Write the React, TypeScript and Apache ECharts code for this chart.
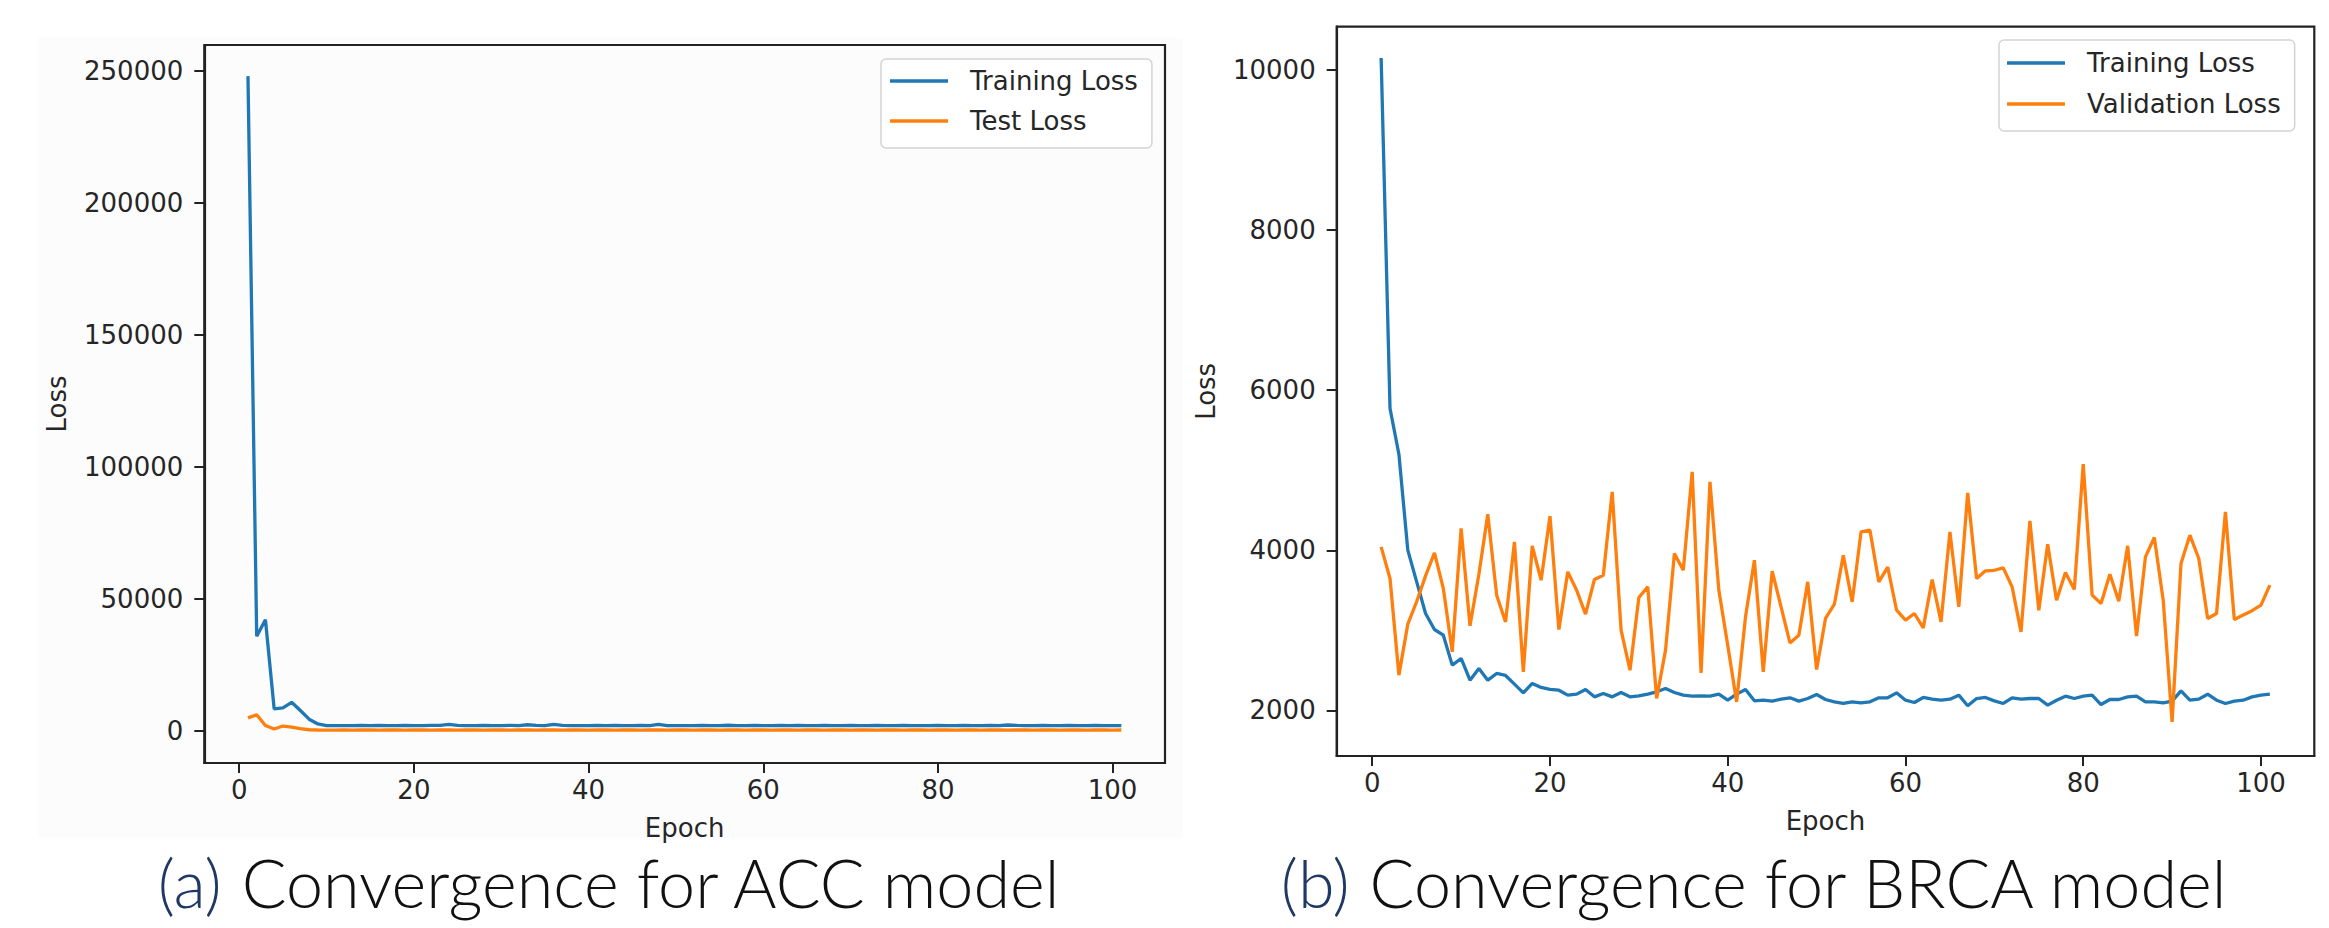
import React, { useEffect, useRef } from "react";
import * as echarts from "echarts";

// ---------- data ----------
const epochs: number[] = [
  1, 2, 3, 4, 5, 6, 7, 8, 9, 10, 11, 12, 13, 14, 15, 16, 17, 18, 19, 20,
  21, 22, 23, 24, 25, 26, 27, 28, 29, 30, 31, 32, 33, 34, 35, 36, 37, 38, 39, 40,
  41, 42, 43, 44, 45, 46, 47, 48, 49, 50, 51, 52, 53, 54, 55, 56, 57, 58, 59, 60,
  61, 62, 63, 64, 65, 66, 67, 68, 69, 70, 71, 72, 73, 74, 75, 76, 77, 78, 79, 80,
  81, 82, 83, 84, 85, 86, 87, 88, 89, 90, 91, 92, 93, 94, 95, 96, 97, 98, 99, 100, 101,
];

const accTrainingLoss: number[] = [
  248000, 35700, 42000, 8200, 8600, 10700, 7600, 4300, 2500, 1900,
  1850, 1900, 1900, 1950, 1900, 1950, 1900, 1900, 1950, 1900,
  1900, 1950, 1950, 2300, 1950, 1900, 1900, 1950, 1900, 1900,
  1950, 1900, 2200, 1950, 1900, 2300, 1950, 1900, 1900, 1900,
  1950, 1900, 1950, 1900, 1900, 1950, 1900, 2300, 1900, 1900,
  1900, 1900, 1950, 1900, 1900, 2000, 1900, 1900, 1950, 1900,
  1900, 1950, 1900, 1950, 1900, 1900, 1950, 1900, 1900, 1950,
  1900, 1900, 1950, 1900, 1900, 1950, 1900, 1900, 1900, 1950,
  1900, 1900, 1950, 1900, 1900, 1950, 1900, 2100, 1950, 1900,
  1900, 1950, 1900, 1900, 1950, 1900, 1900, 1950, 1900, 1900, 1900,
];

const accTestLoss: number[] = [
  4800, 6000, 1900, 600, 1700, 1300, 700, 300, 200, 150,
  150, 200, 150, 200, 200, 150, 200, 200, 150, 200,
  200, 150, 200, 200, 150, 200, 200, 150, 200, 200,
  150, 200, 200, 150, 200, 200, 150, 200, 200, 150,
  200, 200, 150, 200, 200, 150, 200, 200, 150, 200,
  200, 150, 200, 200, 150, 200, 200, 150, 200, 200,
  150, 200, 200, 150, 200, 200, 150, 200, 200, 150,
  200, 200, 150, 200, 200, 150, 200, 200, 150, 200,
  200, 150, 200, 200, 150, 200, 200, 150, 200, 200,
  150, 200, 200, 150, 200, 200, 150, 200, 200, 150, 200,
];

const brcaTrainingLoss: number[] = [
  10150, 5771, 5200, 4001, 3605, 3210, 3010, 2939, 2565, 2648,
  2377, 2523, 2377, 2461, 2436, 2327, 2219, 2336, 2286, 2261,
  2252, 2190, 2203, 2261, 2169, 2211, 2169, 2223, 2169, 2182,
  2203, 2232, 2273, 2223, 2190, 2178, 2182, 2178, 2203, 2127,
  2203, 2261, 2119, 2127, 2115, 2140, 2157, 2115, 2148, 2198,
  2136, 2107, 2086, 2107, 2094, 2107, 2157, 2157, 2219, 2127,
  2098, 2161, 2140, 2127, 2140, 2190, 2057, 2148, 2161, 2119,
  2086, 2157, 2140, 2148, 2148, 2065, 2127, 2177, 2148, 2177,
  2190, 2073, 2136, 2136, 2169, 2177, 2107, 2107, 2094, 2115,
  2244, 2127, 2140, 2202, 2127, 2086, 2115, 2127, 2169, 2190, 2202,
];

const brcaValidationLoss: number[] = [
  4042, 3647, 2440, 3077, 3360, 3680, 3967, 3522, 2731, 4272,
  3056, 3700, 4451, 3439, 3105, 4105, 2481, 4055, 3626, 4426,
  3010, 3730, 3501, 3202, 3635, 3689, 4729, 3002, 2502, 3410,
  3543, 2149, 2752, 3960, 3751, 4979, 2468, 4854, 3500, 2814,
  2106, 3168, 3876, 2481, 3739, 3293, 2843, 2939, 3605, 2511,
  3148, 3326, 3938, 3355, 4230, 4250, 3605, 3790, 3251, 3127,
  3210, 3031, 3635, 3106, 4230, 3293, 4717, 3647, 3743, 3750,
  3780, 3543, 2981, 4367, 3251, 4076, 3376, 3722, 3510, 5075,
  3439, 3335, 3701, 3364, 4055, 2927, 3917, 4159, 3376, 1857,
  3835, 4188, 3897, 3148, 3210, 4480, 3135, 3190, 3245, 3314, 3564,
];

const epochTicks: number[] = [0, 20, 40, 60, 80, 100];
const accLossTicks: number[] = [0, 50000, 100000, 150000, 200000, 250000];
const brcaLossTicks: number[] = [2000, 4000, 6000, 8000, 10000];

const captionA = "Convergence for ACC model";
const captionB = "Convergence for BRCA model";

// ---------- styles ----------
const FONT = "DejaVu Sans";
const TXT = "#262626";
const FRAME = "#222222";
const BLUE = "#1f77b4";
const ORANGE = "#ff7f0e";

function pairs(values: number[]): number[][] {
  return epochs.map((e, i) => [e, values[i]]);
}

const plain = (v: number) => String(v);

function xAxisCfg(gridIndex: number) {
  return {
    type: "value",
    gridIndex,
    min: -4,
    max: 106,
    name: "Epoch",
    nameLocation: "middle",
    nameGap: 52,
    nameTextStyle: { fontFamily: FONT, fontSize: 26, color: TXT },
    axisLine: { show: true, onZero: false, lineStyle: { color: FRAME, width: 2.2 } },
    axisTick: {
      show: true,
      inside: false,
      length: 10,
      lineStyle: { color: FRAME, width: 2 },
      customValues: epochTicks,
    },
    axisLabel: {
      fontFamily: FONT,
      fontSize: 26,
      color: TXT,
      margin: 14,
      formatter: plain,
      customValues: epochTicks,
    },
    splitLine: { show: false },
  };
}

function yAxisCfg(gridIndex: number, min: number, max: number, ticks: number[], nameGap: number) {
  return {
    type: "value",
    gridIndex,
    min,
    max,
    name: "Loss",
    nameLocation: "middle",
    nameRotate: 90,
    nameGap,
    nameTextStyle: { fontFamily: FONT, fontSize: 26, color: TXT },
    axisLine: { show: true, onZero: false, lineStyle: { color: FRAME, width: 2.2 } },
    axisTick: {
      show: true,
      inside: false,
      length: 10,
      lineStyle: { color: FRAME, width: 2 },
      customValues: ticks,
    },
    axisLabel: {
      fontFamily: FONT,
      fontSize: 26,
      color: TXT,
      margin: 21,
      formatter: plain,
      customValues: ticks,
    },
    splitLine: { show: false },
  };
}

function lineSeries(name: string, values: number[], idx: number, color: string) {
  return {
    type: "line",
    name,
    xAxisIndex: idx,
    yAxisIndex: idx,
    data: pairs(values),
    symbol: "none",
    showSymbol: false,
    lineStyle: { color, width: 3.3 },
    itemStyle: { color },
    emphasis: { disabled: true },
  };
}

function legendCfg(left: number, top: number, padding: number[], items: string[], gap: number) {
  return {
    orient: "vertical",
    left,
    top,
    padding,
    itemWidth: 58,
    itemHeight: 3.3,
    itemGap: gap,
    icon: "rect",
    itemStyle: { borderWidth: 0 },
    backgroundColor: "#ffffff",
    borderColor: "#d4d4d4",
    borderWidth: 1.5,
    borderRadius: 5,
    selectedMode: false,
    textStyle: {
      fontFamily: FONT,
      fontSize: 26,
      color: TXT,
      lineHeight: 40,
      padding: [0, 0, 0, 17],
    },
    data: items,
  };
}

function caption(x: number, tag: string, body: string) {
  return {
    type: "text",
    x,
    y: 882,
    silent: true,
    style: {
      text: "{p|" + tag + "} " + body,
      fontFamily: "Lato",
      fontWeight: 300,
      fontSize: 66.5,
      fill: "#111111",
      align: "center",
      verticalAlign: "middle",
      rich: {
        p: { fontFamily: "Lato", fontWeight: 300, fontSize: 66.5, fill: "#1f3864" },
      },
    },
  };
}

export default function App() {
  const ref = useRef<HTMLDivElement>(null);

  useEffect(() => {
    if (!ref.current) return;
    const chart = echarts.init(ref.current, null, { renderer: "svg" });
    const option: any = {
      animation: false,
      backgroundColor: "#ffffff",
      grid: [
        {
          left: 204.3,
          top: 45,
          width: 960.7,
          height: 718,
          show: true,
          borderColor: FRAME,
          borderWidth: 2.2,
          backgroundColor: "transparent",
        },
        {
          left: 1336.7,
          top: 26.7,
          width: 977.6,
          height: 729.3,
          show: true,
          borderColor: FRAME,
          borderWidth: 2.2,
          backgroundColor: "transparent",
        },
      ],
      xAxis: [xAxisCfg(0), xAxisCfg(1)],
      yAxis: [
        yAxisCfg(0, -12300, 259800, accLossTicks, 134),
        yAxisCfg(1, 1430, 10540, brcaLossTicks, 118),
      ],
      legend: [
        legendCfg(881, 59, [2, 14, 7, 9], ["Training Loss", "Test Loss"], 0),
        legendCfg(1999, 40, [3, 14, 7, 8], ["Training Loss", "Validation Loss"], 1),
      ],
      series: [
        lineSeries("Training Loss", accTrainingLoss, 0, BLUE),
        lineSeries("Test Loss", accTestLoss, 0, ORANGE),
        lineSeries("Training Loss", brcaTrainingLoss, 1, BLUE),
        lineSeries("Validation Loss", brcaValidationLoss, 1, ORANGE),
      ],
      graphic: [
        {
          type: "rect",
          z: -100,
          silent: true,
          shape: { x: 38, y: 38, width: 1145, height: 800 },
          style: { fill: "#fcfcfc" },
        },
        caption(609.5, "(a)", captionA),
        caption(1754.5, "(b)", captionB),
      ],
    };
    chart.setOption(option);
    return () => {
      chart.dispose();
    };
  }, []);

  return (
    <div
      ref={ref}
      style={{ position: "fixed", left: 0, top: 0, width: "2329px", height: "928px" }}
    />
  );
}
